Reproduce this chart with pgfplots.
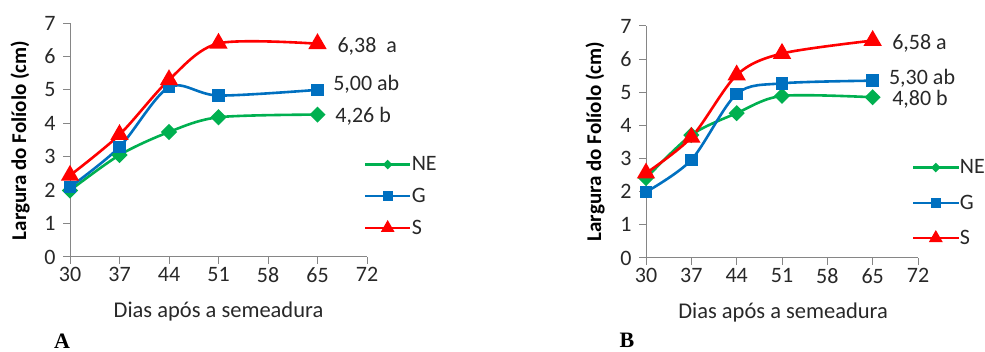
\documentclass[border=0pt]{standalone}
\usepackage{pgfplots}
\pgfplotsset{compat=1.18}
\usepackage{fontspec}
\setmainfont{Carlito}
\newfontfamily\serifbold{Liberation Serif}
\definecolor{cNE}{RGB}{0,176,80}
\definecolor{cG}{RGB}{0,112,192}
\definecolor{cS}{RGB}{255,0,0}
\definecolor{axgray}{RGB}{134,134,134}
\definecolor{txt}{RGB}{40,40,40}
\tikzset{ann/.style={anchor=west, inner sep=0pt, font=\fontsize{22}{26}\selectfont, text=txt}}
\pgfplotsset{
  mystyle/.style={
    scale only axis,
    xmin=30,xmax=72,ymin=0,ymax=7,
    xtick={30,37,44,51,58,65,72}, ytick={0,1,2,3,4,5,6,7},
    axis x line*=bottom, axis y line*=left,
    axis line style={axgray, line width=1pt},
    tick style={axgray, line width=1pt},
    tick align=outside,
    major tick length=7pt,
    tick label style={font=\fontsize{22}{26}\selectfont, text=txt},
    yticklabel style={xshift=-4pt},
    /pgf/number format/assume math mode=true,
    xlabel style={font=\fontsize{22.5}{26}\selectfont, text=txt},
    ylabel style={font=\bfseries\fontsize{21}{24}\selectfont, text=black},
    xlabel={Dias após a semeadura},
    ylabel={Largura do Folíolo (cm)},
    clip=false,
    legend style={draw=none, fill=none, font=\fontsize{22}{26}\selectfont, text=txt, inner sep=0pt, nodes={inner ysep=2pt, inner xsep=0.5pt}},
    legend cell align=left,
    legend image code/.code={
      \draw[##1, mark=none] (0pt,0pt) -- (45pt,0pt);
      \draw[##1, mark repeat=2, mark phase=2] plot coordinates {(0pt,0pt) (22.5pt,0pt) (45pt,0pt)};
    },
    every axis plot/.append style={line width=2.6pt, smooth, tension=0.5},
  },
  ne/.style={cNE, mark=square*, mark size=4.4pt, mark options={rotate=45, solid}, legend image post style={mark size=2.3pt, line width=2.2pt}},
  gg/.style={cG, mark=square*, mark size=5pt, mark options={solid}, legend image post style={mark size=4pt, line width=2.2pt}},
  ss/.style={cS, mark=triangle*, mark size=8pt, mark options={solid}, legend image post style={mark size=5.8pt, line width=2.2pt}},
}
\begin{document}
\begin{tikzpicture}[x=1pt,y=1pt]
\path[use as bounding box] (0,0) rectangle (985,352);
\begin{axis}[mystyle, width=297pt, height=234pt, at={(70pt,95pt)}, anchor=south west,
  xlabel style={at={(axis description cs:0.5,-0.235)}, anchor=center},
  ylabel style={at={(axis description cs:-0.168,0.498)}, anchor=center},
  legend style={at={(axis description cs:0.9895,0.438)}, anchor=north west, row sep=12pt}]
\addplot[ne] coordinates {(30,1.99) (37,3.05) (44,3.74) (51,4.18) (65,4.26)};
\addlegendentry{NE}
\addplot[gg] coordinates {(30,2.09) (37,3.29) (44,5.08) (51,4.83) (65,5.00)};
\addlegendentry{G}
\addplot[ss] coordinates {(30,2.44) (37,3.66) (44,5.30) (51,6.39) (65,6.38)};
\addlegendentry{S}
\node[ann] at (axis cs:67.8,6.31) {6,38\ \ a};
\node[ann] at (axis cs:67.2,5.18) {5,00 ab};
\node[ann] at (axis cs:67.5,4.22) {4,26 b};
\end{axis}
\begin{axis}[mystyle, width=272pt, height=232pt, at={(646pt,94pt)}, anchor=south west,
  xlabel style={at={(axis description cs:0.504,-0.237)}, anchor=center},
  ylabel style={at={(axis description cs:-0.1875,0.502)}, anchor=center},
  legend style={at={(axis description cs:0.978,0.433)}, anchor=north west, row sep=15.5pt}]
\addplot[ne] coordinates {(30,2.41) (37,3.71) (44,4.37) (51,4.89) (65,4.85)};
\addlegendentry{NE}
\addplot[gg] coordinates {(30,1.99) (37,2.96) (44,4.95) (51,5.27) (65,5.35)};
\addlegendentry{G}
\addplot[ss] coordinates {(30,2.56) (37,3.64) (44,5.52) (51,6.17) (65,6.56)};
\addlegendentry{S}
\node[ann] at (axis cs:68.0,6.49) {6,58 a};
\node[ann] at (axis cs:67.5,5.43) {5,30 ab};
\node[ann] at (axis cs:68.0,4.80) {4,80 b};
\end{axis}
\node[font=\serifbold\bfseries\fontsize{22}{26}\selectfont] at (62,11) {A};
\node[font=\serifbold\bfseries\fontsize{22}{26}\selectfont] at (627,12) {B};
\end{tikzpicture}
\end{document}
